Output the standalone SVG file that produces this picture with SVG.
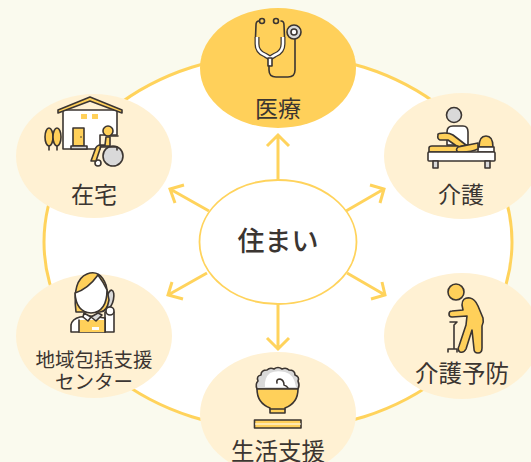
<svg xmlns="http://www.w3.org/2000/svg" width="531" height="462" viewBox="0 0 531 462">
<style>
.lbl{font-family:"Noto Sans CJK JP","Noto Sans",sans-serif;fill:#3b3531;text-anchor:middle}
.arrow{fill:none;stroke:#ffd35c;stroke-width:3;stroke-linecap:butt;stroke-linejoin:miter}
.bub{fill:#fff1d3}
.i{stroke:#3b3531;stroke-width:1.6;stroke-linejoin:round;stroke-linecap:round}
.y{fill:#ffd05a}.w{fill:#fff}.g{fill:#d9d9d9}.n{fill:none}
</style>
<rect width="531" height="462" fill="#fafaee"/>
<g id="connectors">
<ellipse cx="278" cy="242" rx="234" ry="188" fill="#fff" stroke="#ffd35c" stroke-width="3"/>
<path class="arrow" d="M278 180V135M267 146L278 135L289 146"/>
<path class="arrow" d="M209 211L170 189M184 185L170 189L175 203"/>
<path class="arrow" d="M346 211L384 189M370 185L384 189L380 203"/>
<path class="arrow" d="M207 273L168 295M172 282L168 295L183 299"/>
<path class="arrow" d="M347 273L385 295M382 282L385 295L371 299"/>
<path class="arrow" d="M278 304V349M267 338L278 349L289 338"/>
</g>
<g id="node-center">
<ellipse cx="278" cy="242" rx="78.500" ry="62" fill="#fff" stroke="#ffd35c" stroke-width="1.800"/>
<text class="lbl" x="278" y="251" font-size="27" font-weight="500">住まい</text>
</g>
<g id="node-medical">
<ellipse cx="278" cy="68" rx="78" ry="60" fill="#ffd05a"/>
<path class="i n" d="M259 21Q256 21 256 25L255.500 37M281 21Q284 21 284 25L284.500 37"/>
<path d="M257 37V44Q257 52 265 55L270 58L275 55Q283 52 283 44V37" fill="none" stroke="#3b3531" stroke-width="5"/>
<path d="M257 37V44Q257 52 265 55L270 58L275 55Q283 52 283 44V37" fill="none" stroke="#fff" stroke-width="2.500"/>
<rect class="i w" x="268" y="58" width="4" height="8"/>
<circle class="i y" cx="262" cy="21" r="2.500"/><circle class="i y" cx="276" cy="21" r="2.500"/>
<path class="i n" d="M269 66V70Q269 77 276 77H288Q295 77 295 70V38"/>
<circle class="i g" cx="294" cy="32" r="7"/><circle class="i w" cx="294" cy="32" r="3"/>
<text class="lbl" x="278" y="117" font-size="23">医療</text>
</g>
<g id="node-home">
<ellipse class="bub" cx="94" cy="156" rx="78" ry="62"/>
<path class="i w" d="M63 110H117V135H100V149H63Z"/>
<path class="i y" d="M58 110L90 97L122 110V113L90 101L58 113Z"/>
<rect class="y" x="81" y="114" width="6" height="5"/><rect class="y" x="92" y="114" width="6" height="5"/>
<rect class="i y" x="73" y="128" width="11" height="18"/><circle cx="81" cy="137" r=".8" fill="#3b3531"/>
<rect class="i g" x="71" y="146" width="16" height="3"/>
<ellipse class="i y" cx="49" cy="137" rx="4" ry="9"/><ellipse class="i y" cx="57" cy="137" rx="4" ry="9"/>
<path class="i n" d="M49 146V150M57 146V150"/>
<circle class="i g" cx="113" cy="156" r="10"/><circle class="i w" cx="98" cy="163" r="3"/>
<path class="i y" d="M106 137H110V146H101L96 161H91L95 150Q96 145 101 145H105Z"/>
<path class="i n" d="M110 136H118M100 147H117V150"/>
<circle class="i y" cx="108" cy="131" r="5"/>
<text class="lbl" x="94" y="203" font-size="23">在宅</text>
</g>
<g id="node-care">
<ellipse class="bub" cx="462" cy="156" rx="78" ry="63"/>
<circle class="i g" cx="454" cy="115" r="7.500"/>
<path class="i w" d="M447 145V132Q447 126 453 126H463Q468 126 468 132V145Z"/>
<path class="i y" d="M438 135Q437 133 445 133Q450 133 453 135L466 145L458 147L448 140H440Q437 139 438 135Z"/>
<path class="i y" d="M429 152V148Q429 146 432 146H458L464 152Z"/>
<path class="i y" d="M479 147Q479 136 486 136Q493 136 493 147Z"/>
<rect class="i w" x="478" y="147" width="16" height="5"/>
<path class="i y" d="M458 147L478 143L478 149Q472 152 462 152H458Q455 150 458 147Z"/>
<rect class="i w" x="428" y="152" width="67" height="9" rx="1"/>
<rect class="i g" x="433" y="161" width="5" height="7"/><rect class="i g" x="485" y="161" width="5" height="7"/>
<text class="lbl" x="461" y="203" font-size="23">介護</text>
</g>
<g id="node-center-support">
<ellipse class="bub" cx="94" cy="336" rx="78" ry="62"/>
<path class="i w" d="M105 312H114V332H105Z"/>
<ellipse class="i g" cx="110" cy="299" rx="3.500" ry="9" transform="rotate(12 110 299)"/>
<circle class="i w" cx="110" cy="311" r="4"/>
<path class="i y" d="M76 312Q72 280 87 274Q100 269 106 285L109 300Q107 312 100 312H80Z"/>
<path class="i w" d="M75 293Q88 289 98 275Q104 283 107 290Q107 312 91 313Q76 312 75 293Z"/>
<path class="i w" d="M71 332V325Q72 319 80 317L90 316L105 318V332Z"/>
<path class="y" d="M79 320H105V332H79Z"/>
<path class="i n" d="M79 320V332M105 318V332"/>
<rect class="w" x="92" y="327" width="7" height="3"/>
<path class="i w" d="M84 313L91 317L88 321L83 317Z"/>
<path class="i g" d="M98 313L91 317L96 321L102 315Z"/>
<text class="lbl" font-size="19.500"><tspan x="94" y="367">地域包括支援</tspan><tspan x="94" y="389">センター</tspan></text>
</g>
<g id="node-prevention">
<ellipse class="bub" cx="462" cy="336" rx="78" ry="63"/>
<circle class="i y" cx="456" cy="292" r="8"/>
<path class="i y" d="M462 305Q462 297 470 298Q475 299 478 306L483 318Q484 322 482 326L482 348Q482 353 478 353Q474 353 474 349L472 330L466 349Q464 353 460 352Q457 350 459 346L466 325L467 316L452 317Q449 317 449 314Q449 311 452 311L463 310Z"/>
<path class="i n" d="M450 322H457L454 325V349M448 352V349H457V352"/>
<text class="lbl" x="462" y="382" font-size="23.500">介護予防</text>
</g>
<g id="node-living">
<ellipse class="bub" cx="278" cy="414" rx="78" ry="62"/>
<path class="i g" d="M257 389Q255 384 258 381Q256 376 261 375Q261 370 267 370Q270 367 274 369Q278 366 282 369Q286 367 289 370Q295 370 295 375Q300 377 298 381Q300 385 298 389Z"/>
<path d="M265 387Q264 378 270 373Q276 370 285 372Q294 374 296 387Z" fill="#fff"/>
<path class="i n" d="M277 383Q276 379 280 379Q284 380 284 385Q287 386 288 388"/>
<path class="i y" d="M257 389H298Q298 403 285 408V413H270V408Q257 403 257 389Z"/>
<path class="i n" d="M270 409H285"/>
<rect class="i y" x="254.500" y="420" width="46.500" height="8"/>
<path d="M255 424H301" stroke="#fff" stroke-width="1.200"/>
<text class="lbl" x="278" y="460" font-size="23.500">生活支援</text>
</g>
</svg>
